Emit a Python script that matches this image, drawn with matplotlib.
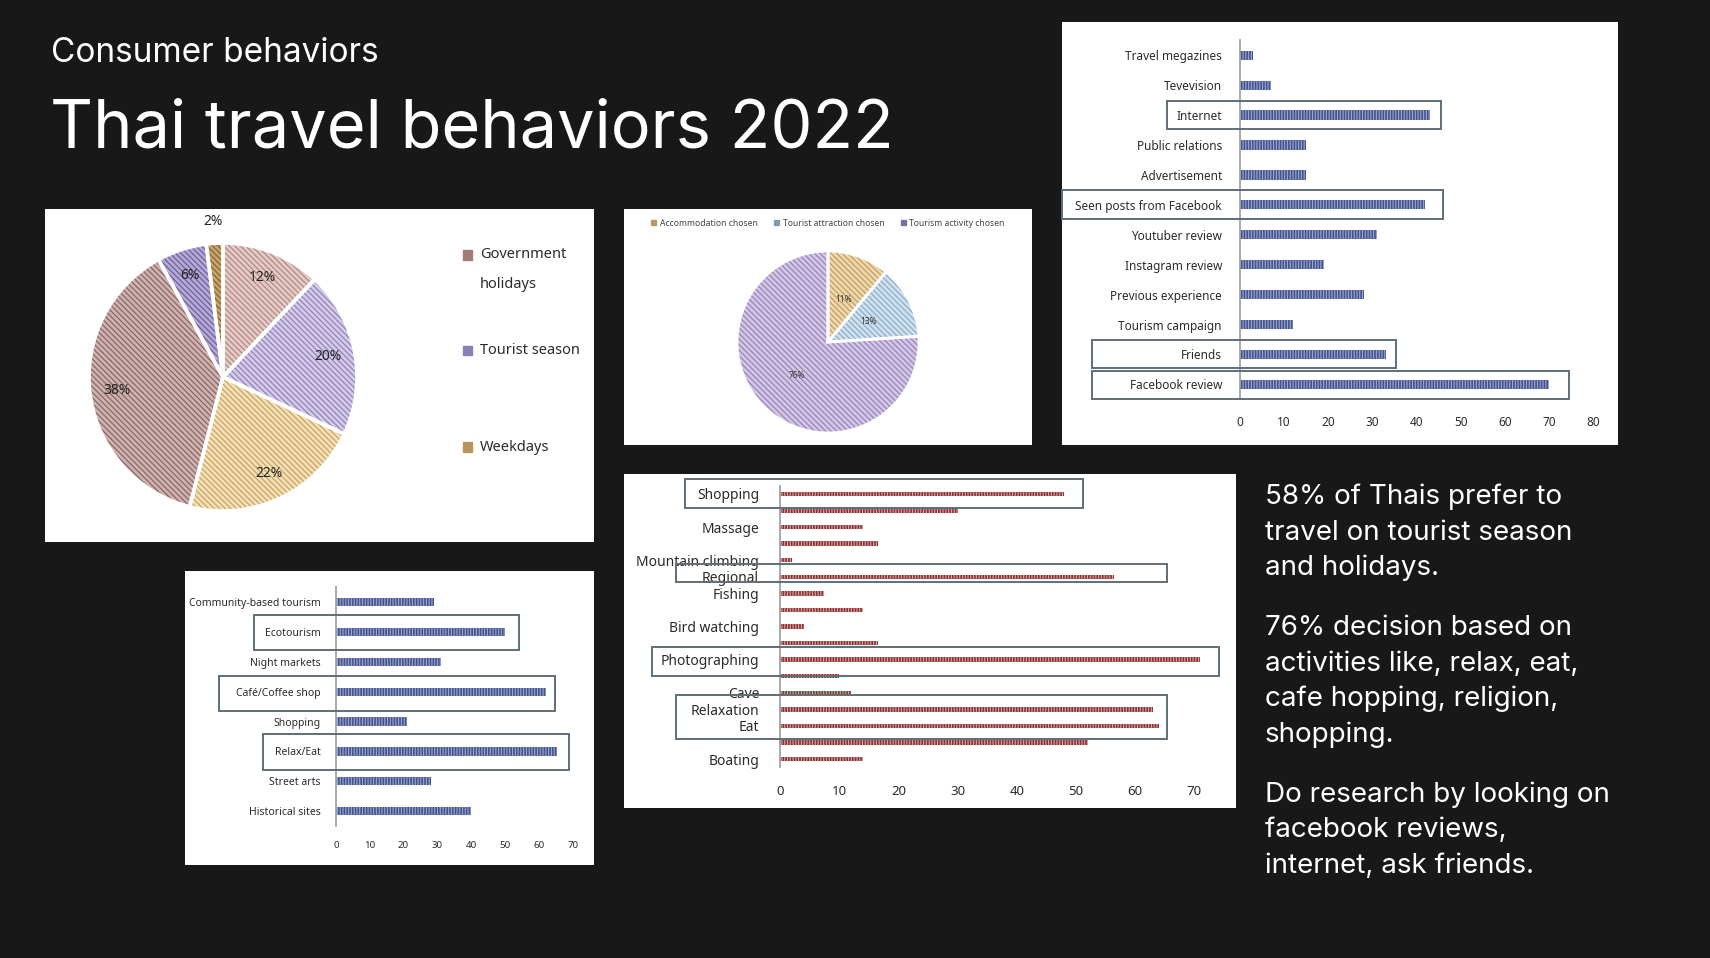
import matplotlib
matplotlib.use('Agg')
import matplotlib.pyplot as plt
import numpy as np
from matplotlib.patches import Rectangle, Patch

# ---- data ----
pie1_values = [12, 20, 22, 38, 6, 2]
pie1_groups = ['Government\nholidays', 'Tourist season', 'Weekdays']

pie2_labels = ['Accommodation chosen', 'Tourist attraction chosen', 'Tourism activity chosen']
pie2_values = [11, 13, 76]

media_labels = ['Travel megazines', 'Tevevision', 'Internet', 'Public relations', 'Advertisement',
                'Seen posts from Facebook', 'Youtuber review', 'Instagram review',
                'Previous experience', 'Tourism campaign', 'Friends', 'Facebook review']
media_values = [3, 7, 43, 15, 15, 42, 31, 19, 28, 12, 33, 70]
media_ticks = [0, 10, 20, 30, 40, 50, 60, 70, 80]

activity_labels = ['Shopping', '', 'Massage', '', 'Mountain climbing', 'Regional', 'Fishing', '',
                   'Bird watching', '', 'Photographing', '', 'Cave', 'Relaxation', 'Eat', '', 'Boating']
activity_values = [48, 30, 14, 16.5, 2, 56.5, 7.5, 14, 4, 16.5, 71, 10, 12, 63, 64, 52, 14]
activity_ticks = [0, 10, 20, 30, 40, 50, 60, 70]

place_labels = ['Community-based tourism', 'Ecotourism', 'Night markets', 'Café/Coffee shop',
                'Shopping', 'Relax/Eat', 'Street arts', 'Historical sites']
place_values = [29, 50, 31, 62, 21, 65.5, 28, 40]
place_ticks = [0, 10, 20, 30, 40, 50, 60, 70]

notes = ["58% of Thais prefer to\ntravel on tourist season\nand holidays.",
         "76% decision based on\nactivities like, relax, eat,\ncafe hopping, religion,\nshopping.",
         "Do research by looking on\nfacebook reviews,\ninternet, ask friends."]

# ---- style ----
BG = '#181818'
CHART_FONT = 'Noto Sans'
TXT = '#2b2b2b'
BOX = '#5f6e79'
plt.rcParams['hatch.linewidth'] = 0.8

W, H = 1710, 958
fig = plt.figure(figsize=(W / 100, H / 100), dpi=100, facecolor=BG)


def frac(x0, y0, x1, y1):
    return [x0 / W, 1 - y1 / H, (x1 - x0) / W, (y1 - y0) / H]


def panel(x0, y0, x1, y1):
    a = fig.add_axes(frac(x0, y0, x1, y1), zorder=0)
    a.set_facecolor('white')
    a.set_xticks([])
    a.set_yticks([])
    for s in a.spines.values():
        s.set_visible(False)
    return a


def bar_chart(rect, labels, values, face, stripe, ticks, xmax, fs, tfs, lpad, tpad, bar_h, boxes):
    ax = fig.add_axes(frac(*rect), zorder=2)
    ax.set_facecolor('none')
    rows = np.arange(len(values))
    ax.barh(rows, values, height=bar_h, color=face, edgecolor=stripe, linewidth=0, hatch='|' * 6)
    ax.set_ylim(len(values) - 0.5, -0.5)
    ax.set_xlim(0, xmax)
    ax.set_yticks(rows, labels, fontsize=fs, family=CHART_FONT, color=TXT)
    ax.set_xticks(ticks, [str(t) for t in ticks], fontsize=tfs, family=CHART_FONT, color=TXT)
    ax.tick_params(axis='y', length=0, pad=lpad)
    ax.tick_params(axis='x', length=0, pad=tpad)
    for s in ['top', 'right', 'bottom']:
        ax.spines[s].set_visible(False)
    ax.spines['left'].set_color('#a3a3a3')
    ax.spines['left'].set_linewidth(1.3)
    for r0, r1, x0, x1 in boxes:
        ax.add_patch(Rectangle((x0, r0), x1 - x0, r1 - r0, fill=False, ec=BOX, lw=1.4, clip_on=False, zorder=3))
    return ax


# ---- titles ----
fig.text(51 / W, 1 - 62 / H, 'Consumer behaviors', color='white', fontsize=24, family='Inter', va='baseline')
fig.text(50 / W, 1 - 147 / H, 'Thai travel behaviors 2022', color='white', fontsize=48, family='Inter', va='baseline')

# ---- pie 1 ----
panel(45, 209, 594, 542)
ax1 = fig.add_axes(frac(89, 243, 357, 511), zorder=2)
faces1 = ['#e6c9c4', '#d5c9e8', '#f5e0b2', '#d0b1af', '#b5a8d4', '#c6a46c']
stripes1 = ['#a98682', '#8c7db5', '#c29e68', '#7f6263', '#665b94', '#7f6130']
wedges, _, pcts = ax1.pie(pie1_values, startangle=90, counterclock=False, colors=faces1,
                          autopct='%.0f%%', pctdistance=0.8,
                          wedgeprops=dict(linewidth=0),
                          textprops=dict(fontsize=10, family=CHART_FONT, color='#222222'))
for w, c in zip(wedges, stripes1):
    w.set_hatch('\\' * 6)
    w.set_edgecolor(c)
    w.set_linewidth(0)
ax1.pie(pie1_values, startangle=90, counterclock=False, colors=['none'] * len(pie1_values),
        wedgeprops=dict(edgecolor='white', linewidth=2.6))
x, y = pcts[-1].get_position()
pcts[-1].set_position((x * 1.45, y * 1.45))
ax1.set_xlim(-1, 1)
ax1.set_ylim(-1, 1)
ax1.set_aspect('equal')

leg_cols = ['#a27b79', '#8a7fb6', '#b8955e']
for i, (name, col) in enumerate(zip(pie1_groups, leg_cols)):
    yy = 255 + i * 96
    fig.patches.append(Rectangle(((467 - 4.5) / W, 1 - (yy + 4.5) / H), 9 / W, 9 / H,
                                 transform=fig.transFigure, color=col, zorder=3))
    for j, line in enumerate(name.split('\n')):
        fig.text(480 / W, 1 - (yy + j * 29) / H, line, fontsize=10.5, family=CHART_FONT,
                 color=TXT, va='center', zorder=3)

# ---- pie 2 ----
panel(624, 209, 1032, 445)
ax2 = fig.add_axes(frac(737, 251, 919, 433), zorder=2)
faces2 = ['#eed8aa', '#cfe0ee', '#d3c5e6']
stripes2 = ['#bb9962', '#88a8c2', '#9280b3']
w2, _, p2 = ax2.pie(pie2_values, startangle=90, counterclock=False, colors=faces2,
                    autopct='%.0f%%', pctdistance=0.5, wedgeprops=dict(linewidth=0),
                    textprops=dict(fontsize=6, family=CHART_FONT, color='#333333'))
for w, c in zip(w2, stripes2):
    w.set_hatch('\\' * 6)
    w.set_edgecolor(c)
    w.set_linewidth(0)
ax2.pie(pie2_values, startangle=90, counterclock=False, colors=['none'] * 3,
        wedgeprops=dict(edgecolor='white', linewidth=2.0))
ax2.set_xlim(-1, 1)
ax2.set_ylim(-1, 1)
ax2.set_aspect('equal')
handles = [Patch(color=c) for c in ['#b89a62', '#7f9db5', '#7c6ea6']]
fig.legend(handles, pie2_labels, ncol=3, loc='center', bbox_to_anchor=(828 / W, 1 - 223 / H),
           frameon=False, handlelength=0.6, handleheight=0.6, handletextpad=0.4,
           columnspacing=1.9, prop=dict(family=CHART_FONT, size=6.2), labelcolor='#444444')

# ---- media bar chart ----
panel(1062, 22, 1618, 445)
bar_chart((1240, 40.3, 1593, 399.3), media_labels, media_values, '#45548e', '#9ba6d0',
          media_ticks, 80, 8.5, 8.5, 13, 12, 0.31,
          [(1.52, 2.48, -16.6, 45.5), (4.52, 5.48, -40.4, 46), (9.52, 10.46, -33.6, 35.3),
           (10.54, 11.5, -33.6, 74.5)])

# ---- activity bar chart ----
panel(624, 474, 1236, 808)
bar_chart((780, 485.7, 1224, 767.3), activity_labels, activity_values, '#8e3434', '#d7a3a3',
          activity_ticks, 75, 10, 9.5, 15, 13, 0.27,
          [(-0.9, 0.83, -16, 51.1), (4.23, 5.31, -17.5, 65.3), (9.22, 10.97, -21.6, 74.1),
           (12.14, 14.81, -17.5, 65.3)])

# ---- places bar chart ----
panel(185, 571, 594, 865)
bar_chart((336, 587.4, 579.4, 825.9), place_labels, place_values, '#45548e', '#9ba6d0',
          place_ticks, 72, 7.5, 7, 11, 11, 0.28,
          [(0.43, 1.6, -24.2, 54.2), (2.47, 3.65, -34.5, 64.8), (4.43, 5.63, -21.7, 69)])

# ---- notes ----
starts = [504, 635, 802]
for y0, para in zip(starts, notes):
    for k, line in enumerate(para.split('\n')):
        fig.text(1265 / W, 1 - (y0 + k * 35.5) / H, line, color='white', fontsize=20,
                 family='Inter', va='baseline')

fig.savefig('out.png', dpi=100, facecolor=BG)
